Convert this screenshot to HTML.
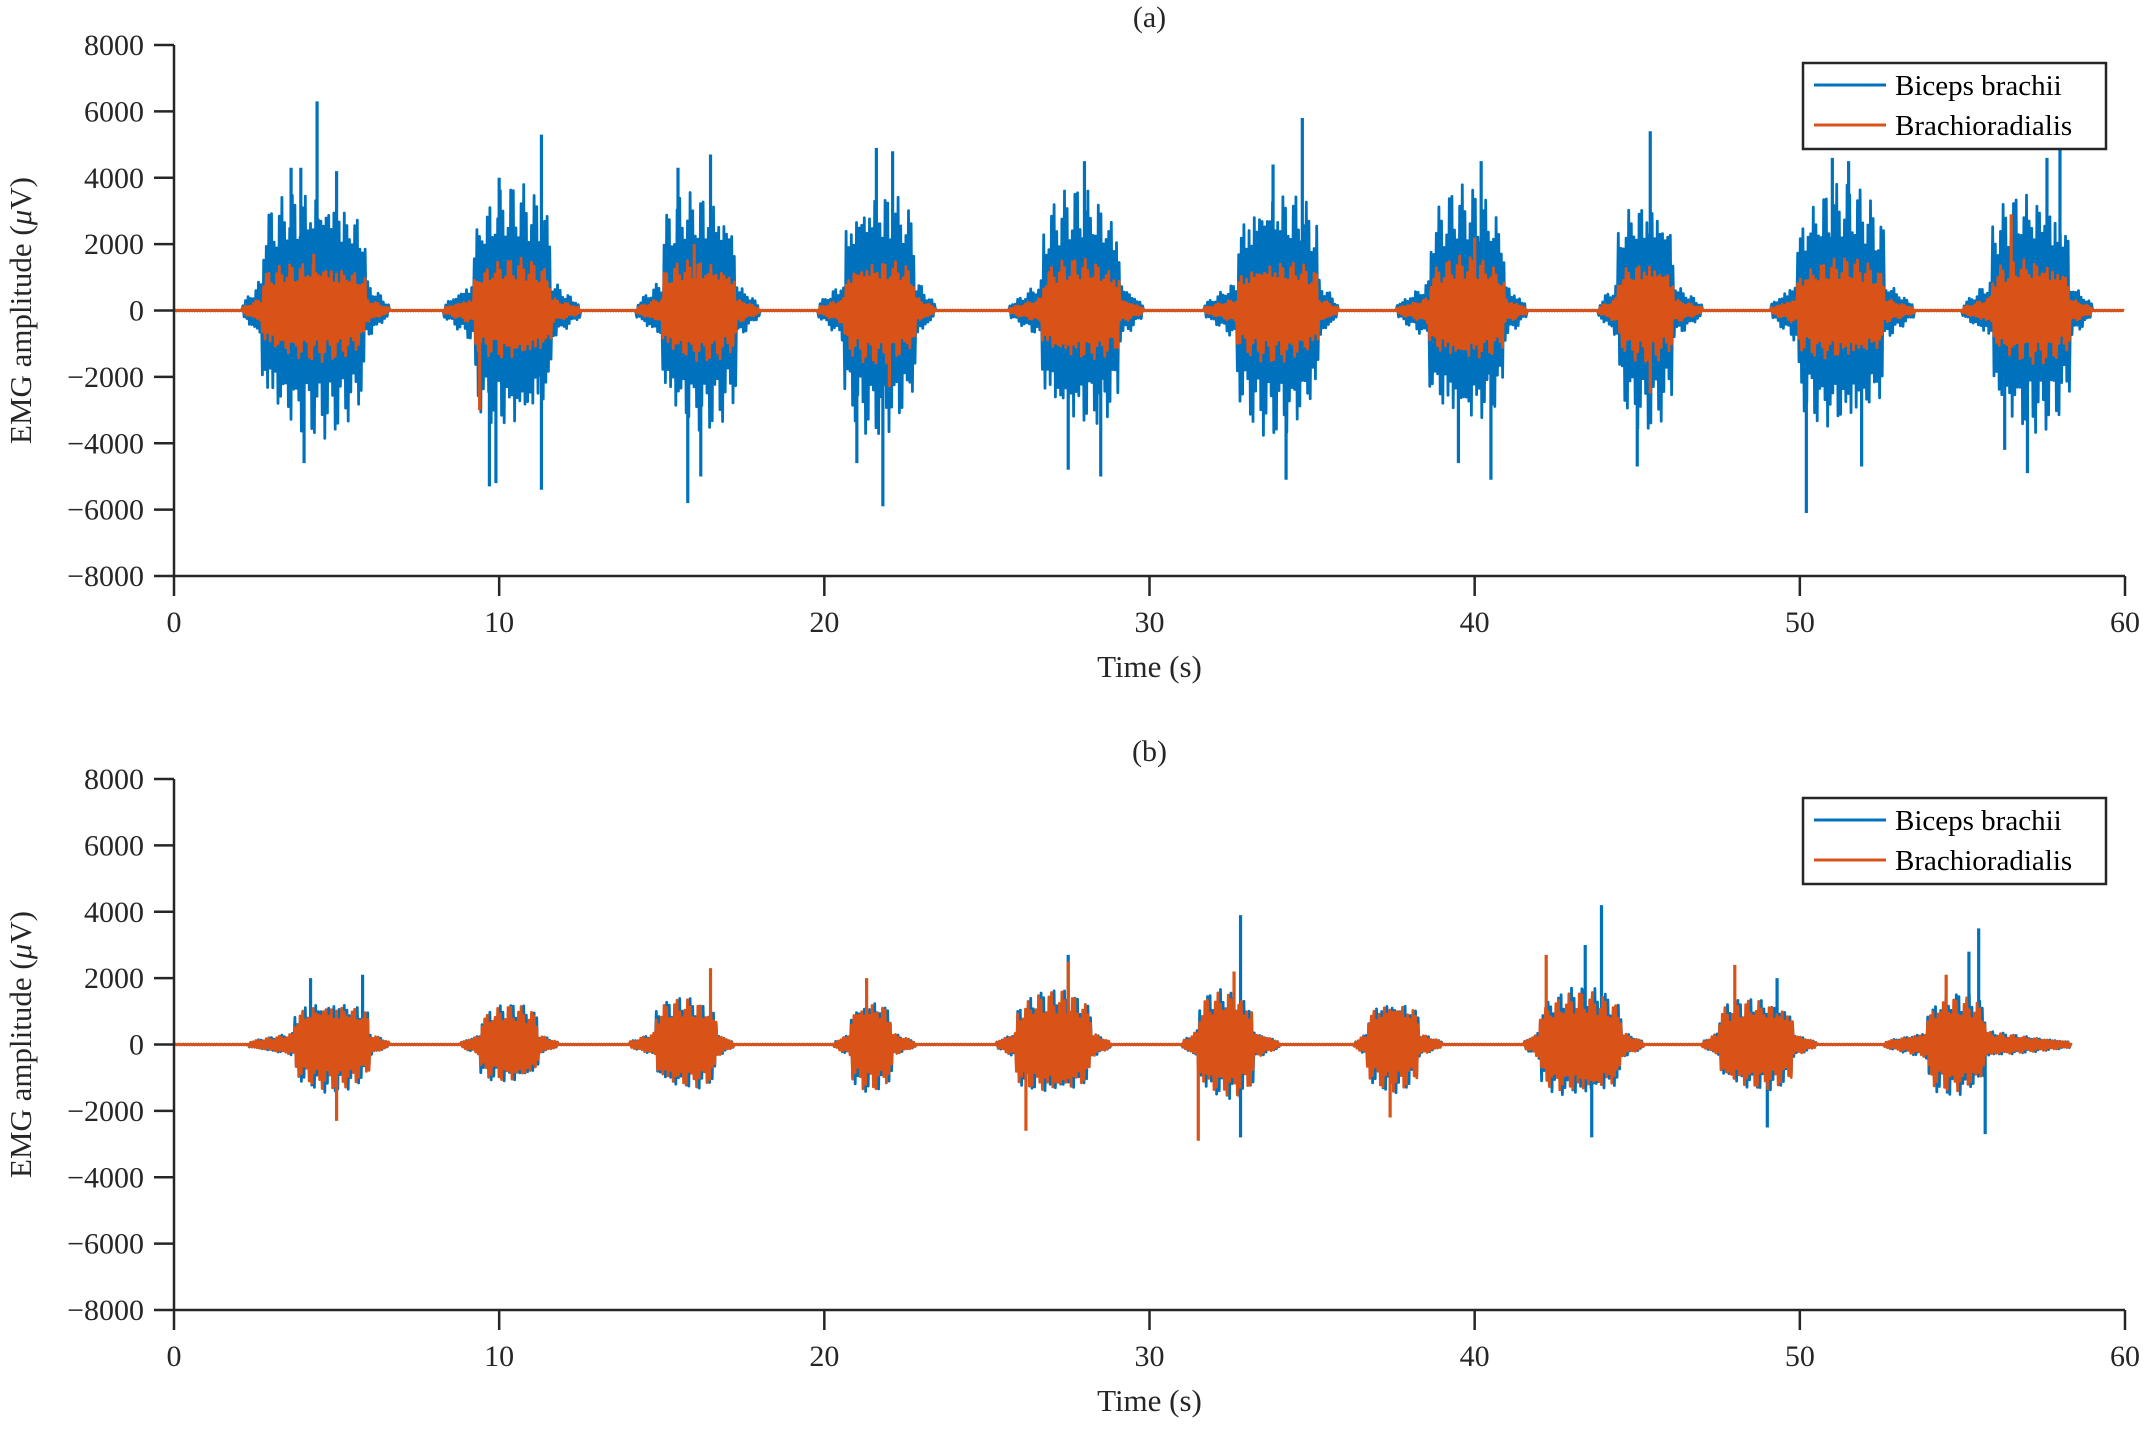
<!DOCTYPE html>
<html><head><meta charset="utf-8"><style>
html,body{margin:0;padding:0;background:#fff;}
svg{display:block;font-family:"Liberation Serif",serif;}
</style></head><body>
<svg id="fig" width="2147" height="1430" viewBox="0 0 2147 1430"></svg>
<script>
// ---- data ----
const xTicks = [0,10,20,30,40,50,60];
const yTicks = [-8000,-6000,-4000,-2000,0,2000,4000,6000,8000];
// Panel (a) bursts
const aStart = [2.1,8.3,14.2,19.8,25.7,31.7,37.6,43.8,49.1,55.0];
const aEnd = [6.6,12.5,18.0,23.4,29.8,35.8,41.6,47.0,53.5,59.0];
const aCoreStart = [2.7,9.2,15.0,20.6,26.7,32.7,38.6,44.4,49.9,55.9];
const aCoreEnd = [5.9,11.6,17.3,22.8,29.1,35.2,40.9,46.1,52.6,58.3];
const aBlueAmp = [3900,3900,3800,3900,3800,3900,3800,3700,3900,3800];
const aOrangeAmp = [1550,1600,1600,1650,1600,1600,1650,1600,1600,1650];
const aBlueSpikes = [[4.4,6300],[4.0,-4600],[3.6,4300],[3.9,4300],[5.0,4200],[11.3,5300],[11.3,-5400],[9.7,-5300],[10.0,4000],[9.9,-5200],[16.5,4700],[15.8,-5800],[15.5,4300],[16.2,-5000],[21.6,4900],[21.8,-5900],[22.1,4800],[21.0,-4600],[28.0,4500],[28.5,-5000],[27.5,-4800],[34.7,5800],[34.2,-5100],[33.8,4400],[40.2,4500],[40.5,-5100],[39.5,-4600],[45.4,5400],[45.0,-4700],[51.0,4600],[50.2,-6100],[51.5,4500],[51.9,-4700],[58.0,4900],[57.0,-4900],[56.3,-4200],[57.6,4600]];
const aOrangeSpikes = [[4.3,1700],[9.4,-3000],[16.0,2000],[56.5,2900],[40.0,2200],[22.0,-2300],[45.4,-2500]];
const aLineEnd = 60;
// Panel (b) bursts
const bStart = [2.3,8.8,14.0,20.3,25.3,31.0,36.3,41.5,47.0,52.6];
const bEnd = [6.6,11.8,17.2,22.8,28.8,34.0,39.0,45.2,50.5,58.3];
const bCoreStart = [3.7,9.4,14.8,20.8,25.9,31.5,36.7,42.0,47.5,53.9];
const bCoreEnd = [6.0,11.2,16.7,22.1,28.2,33.2,38.3,44.5,49.8,55.7];
const bBlueAmp = [1450,1250,1450,1450,1650,1750,1450,1750,1450,1650];
const bOrangeAmp = [1350,1200,1400,1400,1600,1650,1400,1600,1400,1500];
const bBlueSpikes = [[4.2,2000],[5.8,2100],[27.5,2700],[32.8,3900],[32.8,-2800],[43.9,4200],[43.6,-2800],[43.4,3000],[55.5,3500],[55.7,-2700],[55.2,2800],[49.3,2000],[49.0,-2500]];
const bOrangeSpikes = [[5.0,-2300],[16.5,2300],[21.3,2000],[26.2,-2600],[27.5,2500],[31.5,-2900],[42.2,2700],[48.0,2400],[37.4,-2200],[54.5,2100],[32.6,2200]];
const bLineEnd = 58.4;

// ---- layout ----
const NS="http://www.w3.org/2000/svg";
const svg=document.getElementById('fig');
const X0=174, X1=2125;
function mk(tag,attrs,parent){const e=document.createElementNS(NS,tag);for(const k in attrs)e.setAttribute(k,attrs[k]);(parent||svg).appendChild(e);return e;}
const BLUE="#0072BD", ORANGE="#D95319", AX="#262626";

function panel(id,top,bottom,title,st,en,cs,ce,bA,oA,bS,oS,lineEnd,legTop){
  const g=mk('g',{});
  
  
  const xs=t=>X0+(t-0)/60*(X1-X0);
  const ys=v=>top+(8000-v)/16000*(bottom-top);
  function env(t,amps){
    for(let k=0;k<st.length;k++){
      if(t>=st[k]&&t<=en[k]){
        const A=amps[k];
        if(t<cs[k]) return A*(0.05+0.2*(t-st[k])/(cs[k]-st[k]));
        if(t>ce[k]) return A*(0.05+0.2*(en[k]-t)/(en[k]-ce[k]));
        const p=(t-cs[k])/(ce[k]-cs[k]);
        return A*(0.62+0.38*Math.pow(Math.sin(Math.PI*p),0.6));
      }
    }
    return 0;
  }
  function series(amps,spikes,color,name,phase){
    let d='M'+xs(0)+','+ys(0);
    let i=0;
    for(let px=X0;px<=xs(lineEnd);px+=1.3,i++){
      const t=(px-X0)/(X1-X0)*60;
      const tex=0.55+0.45*Math.abs(Math.sin(i*1.91+phase)*Math.cos(i*0.37+1+phase));
      const a=env(t,amps)*tex*(i%2?1:-1)+ (i%2?10:-10);
      d+=' L'+px.toFixed(1)+','+ys(a).toFixed(1);
    }
    const p=mk('path',{d:d,fill:'none',stroke:color,'stroke-width':2.8,'stroke-linejoin':'round'},g);
    
    
    spikes.forEach(s=>{
      const l=mk('line',{x1:xs(s[0]),x2:xs(s[0]),y1:ys(0),y2:ys(s[1]),stroke:color,'stroke-width':3.2},g);
      
      
    });
  }
  series(bA,bS,BLUE,'biceps-brachii',0);
  series(oA,oS,ORANGE,'brachioradialis',0.7);
  const ax=mk('path',{d:`M${X0},${top} L${X0},${bottom} L${X1},${bottom}`,fill:'none',stroke:AX,'stroke-width':2.5},g);
  
  
  yTicks.forEach(v=>{
    mk('line',{x1:X0-20,x2:X0,y1:ys(v),y2:ys(v),stroke:AX,'stroke-width':2.5},g);
    const tx=mk('text',{x:X0-30,y:ys(v)+10,'text-anchor':'end','font-size':30,fill:AX},g);
    tx.textContent=(v<0?'\u2212'+(-v):''+v);
    
    
  });
  xTicks.forEach(v=>{
    mk('line',{x1:xs(v),x2:xs(v),y1:bottom,y2:bottom+20,stroke:AX,'stroke-width':2.5},g);
    const tx=mk('text',{x:xs(v),y:bottom+56,'text-anchor':'middle','font-size':30,fill:AX},g);
    tx.textContent=''+v;
    
    
  });
  const xl=mk('text',{x:(X0+X1)/2,y:bottom+101,'text-anchor':'middle','font-size':31,fill:AX},g);
  xl.textContent='Time (s)';
  
  
  const yl=mk('text',{x:0,y:0,'text-anchor':'middle','font-size':31,fill:AX,transform:`translate(31,${(top+bottom)/2}) rotate(-90)`},g);
  yl.innerHTML='EMG amplitude (<tspan font-style="italic">μ</tspan>V)';
  
  
  const tt=mk('text',{x:(X0+X1)/2,y:top-18,'text-anchor':'middle','font-size':30,fill:AX},g);
  tt.textContent=title;
  
  
  const lg=mk('g',{},g);
  
  
  mk('rect',{x:1803,y:legTop,width:303,height:86,fill:'#fff',stroke:AX,'stroke-width':2.5},lg);
  [['Biceps brachii',BLUE],['Brachioradialis',ORANGE]].forEach((e,k)=>{
    const yy=legTop+22+k*40;
    mk('line',{x1:1814,x2:1886,y1:yy,y2:yy,stroke:e[1],'stroke-width':3},lg);
    const tx=mk('text',{x:1895,y:yy+10,'font-size':29,fill:'#000'},lg);
    tx.textContent=e[0];
    
    
  });
}
panel('a',45,576,'(a)',aStart,aEnd,aCoreStart,aCoreEnd,aBlueAmp,aOrangeAmp,aBlueSpikes,aOrangeSpikes,aLineEnd,63);
panel('b',779,1310,'(b)',bStart,bEnd,bCoreStart,bCoreEnd,bBlueAmp,bOrangeAmp,bBlueSpikes,bOrangeSpikes,bLineEnd,798);
</script>
</body></html>
